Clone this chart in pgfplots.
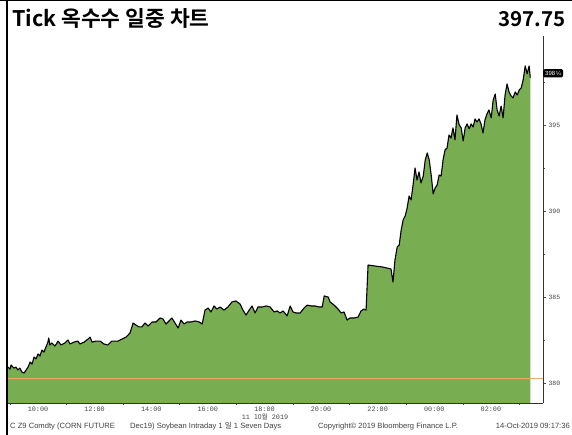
\documentclass[border=0pt]{standalone}
\usepackage{fontspec}
\setmainfont{Liberation Sans}
\newfontfamily\kr{Noto Sans CJK KR}
\newfontfamily\krb{Noto Sans CJK KR Bold}
\newfontfamily\mono{Liberation Mono}
\usepackage{pgfplots}
\usepackage{pgfplotstable}
\pgfplotsset{compat=1.18}
\definecolor{bbgreen}{RGB}{121,173,82}
\definecolor{lblgray}{RGB}{70,70,70}
\definecolor{bborange}{RGB}{238,170,90}

\pgfplotstableread{
h v
8.94 380.93
9.01 380.81
9.05 381.05
9.08 380.99
9.15 380.87
9.22 380.93
9.29 380.76
9.36 380.87
9.43 380.64
9.51 380.58
9.58 380.76
9.65 380.93
9.72 381.22
9.79 381.10
9.86 381.51
9.93 381.40
10.00 381.69
10.07 381.57
10.14 381.92
10.21 381.80
10.28 382.09
10.35 382.38
10.38 382.62
10.42 382.21
10.49 382.33
10.60 382.15
10.71 382.44
10.81 382.21
10.95 382.33
11.06 382.50
11.13 382.27
11.27 382.38
11.41 382.44
11.48 382.27
11.63 382.38
11.77 382.56
11.84 382.67
11.91 382.38
12.05 382.44
12.19 382.44
12.33 382.27
12.47 382.21
12.61 382.44
12.83 382.44
12.97 382.56
13.11 382.67
13.25 382.91
13.36 383.49
13.46 383.37
13.57 383.26
13.67 383.26
13.78 383.49
13.89 383.31
14.03 383.55
14.17 383.55
14.31 383.78
14.42 383.72
14.52 383.43
14.63 383.61
14.73 383.78
14.84 383.49
14.95 383.20
15.05 383.66
15.16 383.43
15.27 383.55
15.41 383.55
15.55 383.61
15.69 383.55
15.80 383.43
15.90 384.24
16.01 384.36
16.11 384.13
16.22 384.48
16.32 384.30
16.43 384.42
16.57 384.24
16.71 384.42
16.85 384.71
16.99 384.77
17.14 384.59
17.24 384.24
17.35 383.95
17.46 384.24
17.56 384.48
17.67 384.07
17.77 384.42
17.92 384.42
18.06 384.48
18.20 384.42
18.34 384.13
18.45 384.19
18.55 384.07
18.66 384.19
18.80 383.90
18.91 384.48
19.01 384.13
19.12 384.07
19.26 384.07
19.40 384.36
19.51 384.53
19.65 384.48
19.79 384.48
19.93 384.42
20.04 384.42
20.11 385.06
20.25 385.00
20.32 384.71
20.46 384.53
20.60 384.30
20.71 384.07
20.81 384.13
20.92 383.66
21.02 383.78
21.17 383.78
21.31 383.84
21.41 384.19
21.51 384.30
21.59 384.24
21.66 386.86
21.91 386.80
22.19 386.74
22.47 386.63
22.54 385.87
22.61 387.15
22.69 387.91
22.76 388.02
22.83 388.90
22.90 389.48
22.97 389.71
23.04 390.17
23.11 390.87
23.18 390.64
23.25 391.51
23.32 392.50
23.39 391.80
23.46 392.27
23.53 391.63
23.61 392.03
23.68 392.97
23.75 393.37
23.82 392.97
23.89 392.09
23.96 390.99
24.03 391.34
24.10 391.51
24.17 392.09
24.24 392.03
24.31 392.97
24.38 393.55
24.45 393.66
24.52 394.42
24.59 394.24
24.66 394.83
24.73 394.13
24.80 395.58
24.88 395.00
24.95 394.83
25.02 394.07
25.09 394.83
25.16 395.06
25.23 394.77
25.30 395.06
25.37 394.88
25.44 395.35
25.51 395.17
25.58 395.35
25.65 395.06
25.72 394.53
25.79 395.29
25.86 395.64
25.93 395.87
26.01 395.41
26.08 396.45
26.15 396.80
26.22 395.87
26.29 395.52
26.36 396.10
26.43 395.41
26.50 396.74
26.57 397.38
26.64 396.92
26.71 396.69
26.78 396.57
26.86 396.92
26.93 396.74
27.00 397.03
27.07 397.15
27.14 397.62
27.21 398.43
27.28 397.97
27.35 398.43
27.39 397.75
}\corn

\begin{document}
\begin{tikzpicture}[x=1pt,y=1pt]
\useasboundingbox (0,0) rectangle (572,435);
\fill[white] (0,0) rectangle (572,435);
\begin{axis}[
  at={(8pt,32pt)}, anchor=south west,
  scale only axis, width=535pt, height=367pt,
  xmin=8.94, xmax=27.84, ymin=378.84, ymax=400.17,
  axis x line*=bottom, axis y line*=right,
  axis line style={black!80, line width=0.5pt},
  clip=false,
  xtick={10,12,14,16,18,20,22,24,26},
  xticklabels={10:00,12:00,14:00,16:00,18:00,20:00,22:00,00:00,02:00},
  minor xtick={9,11,13,15,17,19,21,23,25,27},
  major x tick style={draw=none},
  minor x tick style={black!70},
  ytick={380,385,390,395},
  minor ytick={382.5,387.5,392.5,397.5},
  y tick style={black!70},
  tick align=outside,
  major tick length=3pt, minor tick length=2pt,
  x tick label style={font=\mono\fontsize{6.8}{8}\selectfont, text=lblgray, yshift=2.5pt},
  y tick label style={font=\mono\fontsize{6.5}{8}\selectfont, text=lblgray, xshift=-1pt},
  /pgf/number format/assume math mode=true,
]
\addplot[fill=bbgreen, draw=none] table[x=h,y=v]{\corn} \closedcycle;
\addplot[bborange, line width=0.4pt] coordinates {(8.94,380.29) (27.84,380.29)};
\addplot[black, line width=1.1pt, line join=round] table[x=h,y=v]{\corn};
\node[fill=black, rounded corners=1.5pt, text=white, anchor=west, inner sep=2pt,
  font=\fontsize{6}{7}\selectfont] at (axis cs:27.84,398) {398\,¼};
\end{axis}
\draw[black, line width=2pt] (7,0) -- (7,435);
\draw[black, line width=1pt] (0,434.5) -- (572,434.5);
\node[anchor=base west, inner sep=0pt, font=\krb\fontsize{21.5}{25}\selectfont] at (12,408) {Tick 옥수수 일중 차트};
\node[anchor=base east, inner sep=0pt, font=\krb\fontsize{20.5}{24}\selectfont] at (566,408) {397.75};
\node[anchor=base, inner sep=0pt, font=\mono\fontsize{6.8}{8}\selectfont, text=lblgray] at (265,15) {11 {\kr 10월} 2019};
\begin{scope}[every node/.style={anchor=base west, inner sep=0pt, font=\fontsize{7.6}{9}\selectfont, text=black!75}]
\node at (10,6.5) {C Z9 Comdty (CORN FUTURE};
\node at (130,6.5) {Dec19) Soybean Intraday 1 {\kr 일} 1 Seven Days};
\node at (318,6.5) {Copyright© 2019 Bloomberg Finance L.P.};
\node[anchor=base east] at (570,6.5) {14-Oct-2019 09:17:36};
\end{scope}
\end{tikzpicture}
\end{document}
